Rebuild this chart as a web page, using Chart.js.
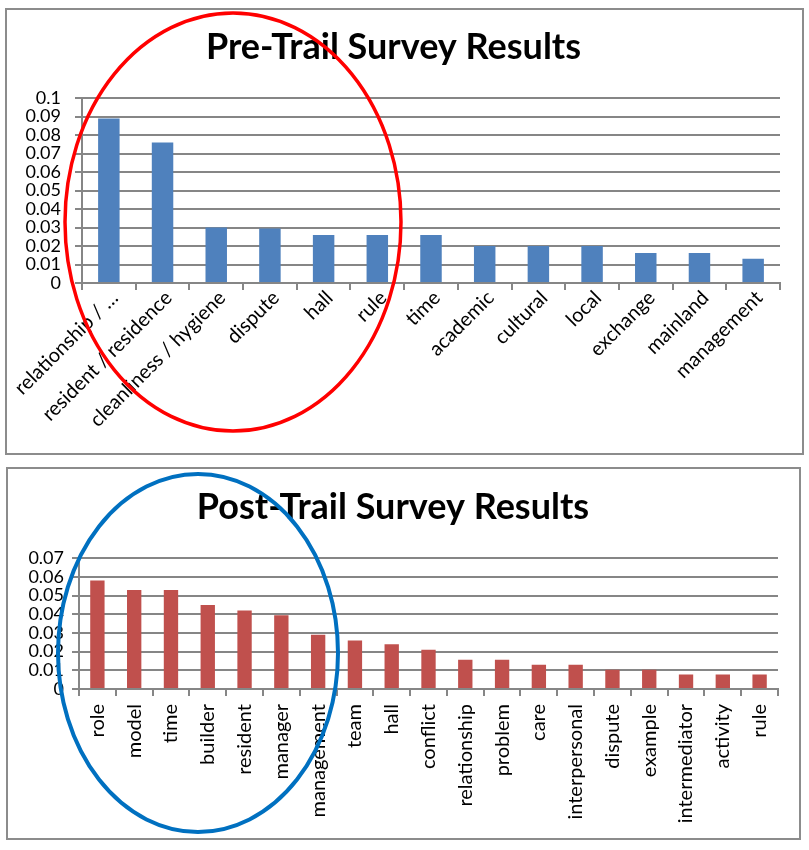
<!DOCTYPE html>
<html>
<head>
<meta charset="utf-8">
<script src="https://cdn.jsdelivr.net/npm/chart.js@4.4.1/dist/chart.umd.min.js"></script>
<style>
  body { margin: 0; background: #fff; width: 809px; height: 850px; position: relative; overflow: hidden; }
  .box { position: absolute; border: 2px solid #8c8c8c; box-sizing: border-box; }
  #preBox { left: 5px; top: 8px; width: 799px; height: 447px; }
  #postBox { left: 6px; top: 467px; width: 795px; height: 373px; }
  canvas { display: block; }
</style>
</head>
<body>
<div class="box" id="preBox"><canvas id="preChart" width="795" height="443"></canvas></div>
<div class="box" id="postBox"><canvas id="postChart" width="791" height="369"></canvas></div>
<script>
// Pre-trail survey
const preLabels = ["relationship / \u2026", "resident / residence", "cleanliness / hygiene", "dispute", "hall", "rule",
    "time", "academic", "cultural", "local", "exchange", "mainland", "management"];
const preValues = [0.089, 0.076, 0.030, 0.0295, 0.026, 0.026, 0.026, 0.020, 0.020, 0.020, 0.0163, 0.0163, 0.0131];

// Post-trail survey
const postLabels = ["role", "model", "time", "builder", "resident", "manager", "management", "team", "hall", "conflict",
    "relationship", "problem", "care", "interpersonal", "dispute", "example", "intermediator", "activity", "rule"];
const postValues = [0.058, 0.053, 0.053, 0.045, 0.042, 0.0395, 0.029, 0.026, 0.024, 0.021,
    0.0156, 0.0156, 0.013, 0.013, 0.0103, 0.0103, 0.0077, 0.0077, 0.0077];

Chart.defaults.font.family = 'Lato, "Liberation Sans", sans-serif';
Chart.defaults.color = "#000";

// hand-drawn circle annotation on top of the chart
const ellipsePlugin = {
    id: "ellipse",
    afterDraw(chart, args, opts) {
        const ctx = chart.ctx;
        ctx.save();
        ctx.beginPath();
        ctx.ellipse(opts.x, opts.y, opts.rx, opts.ry, 0, 0, Math.PI * 2);
        ctx.strokeStyle = opts.color;
        ctx.lineWidth = opts.width;
        ctx.stroke();
        ctx.restore();
    }
};

function fmt(v) {
    return String(Number(v.toFixed(2)));
}

function makeChart(id, cfg) {
    return new Chart(document.getElementById(id).getContext("2d"), {
        type: "bar",
        data: {
            labels: cfg.labels,
            datasets: [{
                data: cfg.values,
                backgroundColor: cfg.color,
                barPercentage: cfg.barPct,
                categoryPercentage: 1
            }]
        },
        options: {
            responsive: false,
            animation: false,
            layout: { padding: { left: 0, right: cfg.padRight, top: 0, bottom: 0 } },
            plugins: {
                legend: { display: false },
                tooltip: { enabled: false },
                title: {
                    display: true,
                    text: cfg.title,
                    font: { size: 36, weight: "bold" },
                    lineHeight: 1.2,
                    padding: { top: cfg.titleTop, bottom: cfg.titleBottom }
                },
                ellipse: cfg.ellipse
            },
            scales: {
                y: {
                    min: 0,
                    max: cfg.yMax,
                    ticks: { stepSize: 0.01, autoSkip: false, padding: cfg.yPad, font: { size: 18 }, callback: fmt },
                    grid: { color: "#868686", lineWidth: 2, tickLength: 7 },
                    border: { color: "#868686", width: 2 },
                    afterFit: (s) => { s.width = cfg.yWidth; }
                },
                x: {
                    ticks: {
                        autoSkip: false,
                        minRotation: cfg.rot,
                        maxRotation: cfg.rot,
                        padding: cfg.xPad,
                        labelOffset: cfg.xShift,
                        font: { size: cfg.xFont }
                    },
                    grid: { drawOnChartArea: false, offset: true, color: "#868686", lineWidth: 2, tickLength: 7 },
                    border: { color: "#868686", width: 2 },
                    afterFit: (s) => { s.height = cfg.xHeight; s.paddingLeft = 0; s.paddingRight = 0; }
                }
            }
        },
        plugins: [ellipsePlugin]
    });
}

makeChart("preChart", {
    labels: preLabels, values: preValues, color: "#4f81bd", barPct: 0.4,
    title: "Pre-Trail Survey Results", titleTop: 16, titleBottom: 29,
    yMax: 0.1, yWidth: 75, yPad: 14, padRight: 22,
    rot: 45, xPad: -4, xShift: 6, xFont: 20, xHeight: 170,
    ellipse: { x: 226, y: 212, rx: 168, ry: 209, color: "#ff0000", width: 3.5 }
});

makeChart("postChart", {
    labels: postLabels, values: postValues, color: "#c0504d", barPct: 0.39,
    title: "Post-Trail Survey Results", titleTop: 17, titleBottom: 29,
    yMax: 0.07, yWidth: 71, yPad: 8, padRight: 21,
    rot: 90, xPad: 8, xShift: 0, xFont: 20, xHeight: 149,
    ellipse: { x: 190, y: 184, rx: 140, ry: 179, color: "#0070c0", width: 4 }
});
</script>
</body>
</html>
